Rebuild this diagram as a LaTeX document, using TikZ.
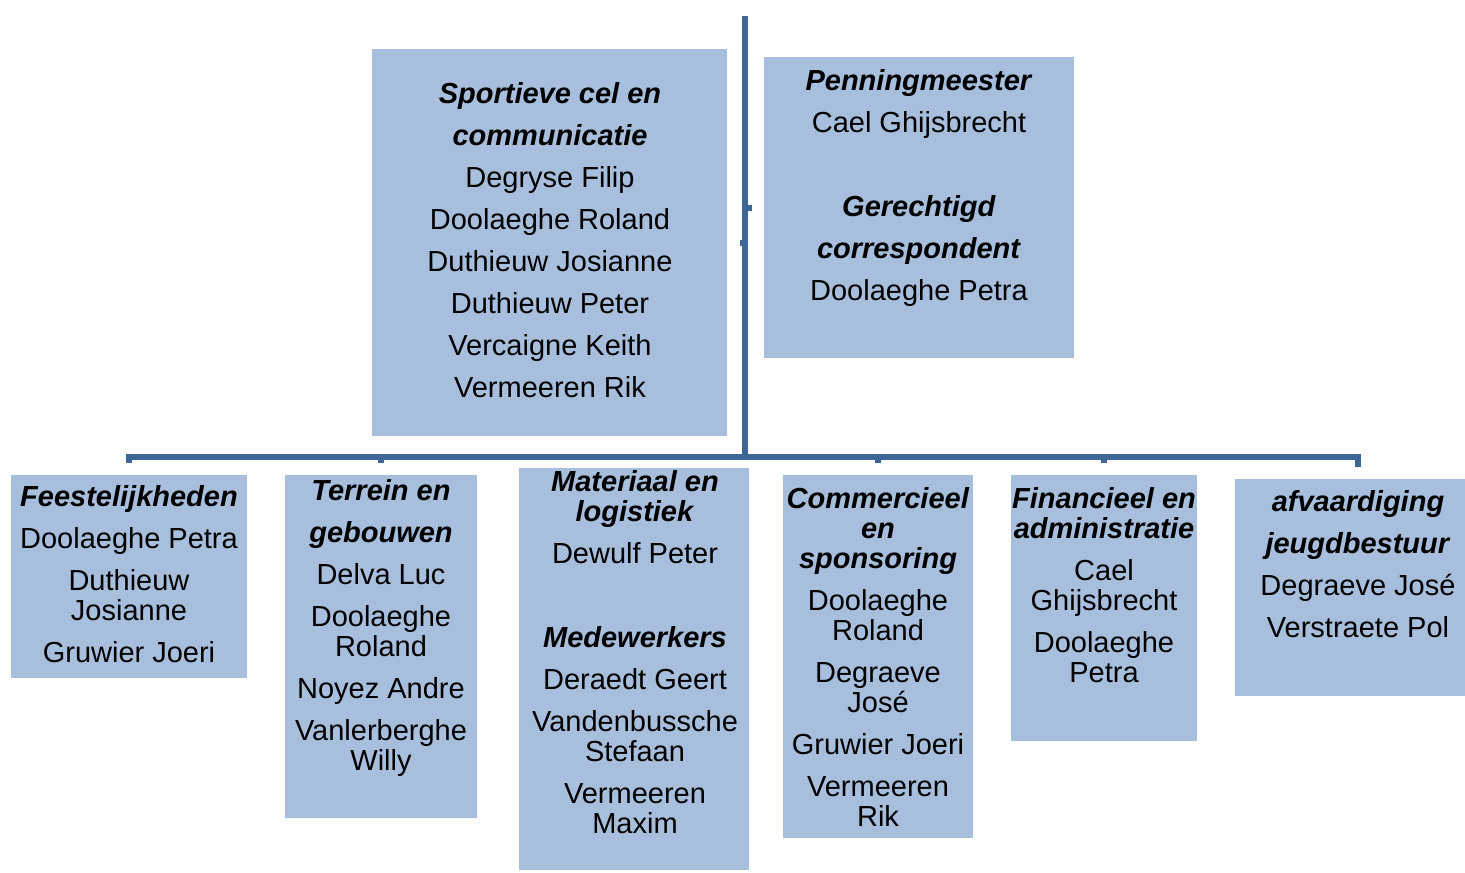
\documentclass[tikz,border=0pt]{standalone}
\usepackage{fontspec}
\setmainfont{Liberation Sans}
\definecolor{boxBlue}{RGB}{167,191,221}
\definecolor{lineBlue}{RGB}{62,102,152}
\newcommand{\hd}[1]{\textbf{\textit{#1}}}
\begin{document}
\begin{tikzpicture}
[x=0.5pt,y=-0.5pt,%
  boxDecorate/.style={shape=rectangle,fill=boxBlue,draw=none,inner sep=0pt,anchor=north west},%
  textDecorate/.style={align=center,anchor=base,inner sep=0pt,font=\fontsize{14.5}{15}\selectfont},%
  linkDecorate/.style={-,draw=lineBlue,line width=2.8pt}]
\useasboundingbox (0,0) rectangle (1465,872);
%% boxes
\foreach \boxname/\x/\y/\w/\h in {
  sport/372/49/355/387, pen/764/57/310/301,
  feest/11/475/236/203, terrein/285/475/192/343, mat/519/468/230/402,
  comm/783/475/190/363, fin/1011/475/186/266, jeugd/1235/479/230/217}
{
  \node (\boxname) at (\x,\y) [boxDecorate,minimum width=\w*0.5pt,minimum height=\h*0.5pt] {};
}
%% texts (placed at the baseline of their last line)
\node (sport-t) at (550,397) [textDecorate] {\hd{Sportieve cel en}\\[6pt] \hd{communicatie}\\[6pt]
  Degryse Filip\\[6pt] Doolaeghe Roland\\[6pt] Duthieuw Josianne\\[6pt] Duthieuw Peter\\[6pt]
  Vercaigne Keith\\[6pt] Vermeeren Rik};
\node (pen-t) at (919,300) [textDecorate] {\hd{Penningmeester}\\[6pt] Cael Ghijsbrecht\\[27pt]
  \hd{Gerechtigd}\\[6pt] \hd{correspondent}\\[6pt] Doolaeghe Petra};
\node (feest-t) at (129,662) [textDecorate] {\hd{Feestelijkheden}\\[6pt] Doolaeghe Petra\\[6pt]
  Duthieuw\\ Josianne\\[6pt] Gruwier Joeri};
\node (terrein-t) at (381,770) [textDecorate] {\hd{Terrein en}\\[6pt] \hd{gebouwen}\\[6pt] Delva Luc\\[6pt]
  Doolaeghe\\ Roland\\[6pt] Noyez Andre\\[6pt] Vanlerberghe\\ Willy};
\node (mat-t) at (635,833) [textDecorate] {\hd{Materiaal en}\\ \hd{logistiek}\\[6pt] Dewulf Peter\\[27pt]
  \hd{Medewerkers}\\[6pt] Deraedt Geert\\[6pt] Vandenbussche\\ Stefaan\\[6pt] Vermeeren\\ Maxim};
\node (comm-t) at (878,826) [textDecorate] {\hd{Commercieel}\\ \hd{en}\\ \hd{sponsoring}\\[6pt]
  Doolaeghe\\ Roland\\[6pt] Degraeve\\ José\\[6pt] Gruwier Joeri\\[6pt] Vermeeren\\ Rik};
\node (fin-t) at (1104,682) [textDecorate] {\hd{Financieel en}\\ \hd{administratie}\\[6pt]
  Cael\\ Ghijsbrecht\\[6pt] Doolaeghe\\ Petra};
\node (jeugd-t) at (1358,637) [textDecorate] {\hd{afvaardiging}\\[6pt] \hd{jeugdbestuur}\\[6pt]
  Degraeve José\\[6pt] Verstraete Pol};
%% edges or lines
\coordinate (top) at (745,16);
\coordinate (hub) at (745,457);
\draw[linkDecorate,line width=3.3pt] (top) -- (hub);
\draw[linkDecorate,shorten >=6] (top |- pen.west) -- (pen.west);
\draw[linkDecorate,shorten >=6] (top |- sport.east) -- (sport.east);
\foreach \endnode in {feest, terrein, mat, comm, fin, jeugd}
{
  \draw[linkDecorate,shorten >=6] (hub) -| (\endnode-t |- \endnode.north);
}
\end{tikzpicture}
\end{document}
